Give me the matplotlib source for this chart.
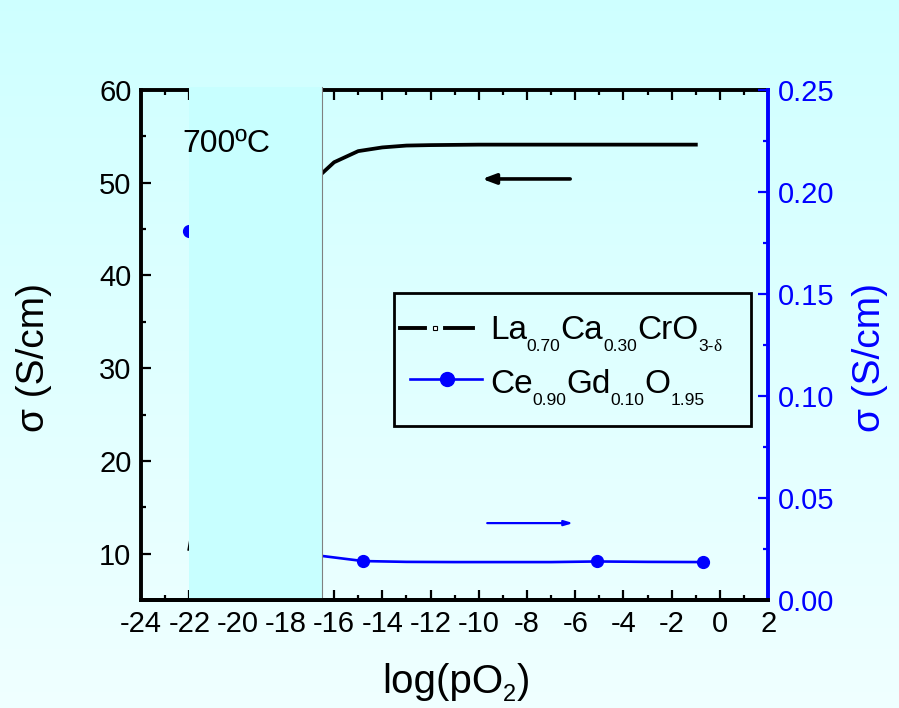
import matplotlib
matplotlib.use("Agg")
import matplotlib.pyplot as plt
import numpy as np
from matplotlib.lines import Line2D
from matplotlib.patches import Rectangle
from matplotlib.transforms import offset_copy, blended_transform_factory
from matplotlib.ticker import MultipleLocator, FormatStrFormatter

# dados
x_lcc = [-22, -21, -20, -19, -18, -17, -16.5, -16, -15, -14, -13, -12, -10, -8, -6, -4, -2, -1]
s_lcc = [10.5, 25, 35, 42, 47, 50, 51.0, 52.2, 53.4, 53.8, 54.0, 54.05, 54.1, 54.1, 54.1, 54.1, 54.1, 54.1]

x_cgo = [-22, -20, -18, -16.5, -14.8, -13, -11, -9, -7, -5.1, -3, -0.7]
s_cgo = [0.181, 0.09, 0.04, 0.0216, 0.0191, 0.0187, 0.0186, 0.0186, 0.0186, 0.0189, 0.0187, 0.0186]
cgo_marks = [0, 4, 9, 11]   # pontos medidos (com símbolo)

shade_x = (-22, -16.5)
# (texto, tipo): 0 normal, 1 subscrito, 2 subscrito serifado
lbl_lcc = [("La", 0), ("0.70", 1), ("Ca", 0), ("0.30", 1), ("CrO", 0), ("3-", 1), ("δ", 2)]
lbl_cgo = [("Ce", 0), ("0.90", 1), ("Gd", 0), ("0.10", 1), ("O", 0), ("1.95", 1)]
lbl_x = [("log(pO", 0), ("2", 1), (")", 0)]

plt.rcParams.update({
    "font.family": ["Liberation Sans", "DejaVu Sans"],
    "axes.unicode_minus": False,
})

BLUE = "#0000FF"
fig = plt.figure(figsize=(8.99, 7.08), dpi=100)
renderer = fig.canvas.get_renderer()


def formula(trans, x0, y0, parts, size, sub_size, drop, color="black", **kw):
    """Escreve texto com subscritos em pedaços (tamanho/deslocamento livres)."""
    dx = 0.0
    for s, kind in parts:
        fs = size if kind == 0 else sub_size
        dy = 0 if kind == 0 else -drop
        fam = ["Liberation Serif"] if kind == 2 else ["Liberation Sans"]
        tr = offset_copy(trans, fig=fig, x=dx, y=dy, units="dots")
        t = fig.text(x0, y0, s, transform=tr, fontsize=fs, family=fam,
                     va="baseline", ha="left", color=color, **kw)
        dx += t.get_window_extent(renderer).width


# fundo em degradê
bg = fig.add_axes([0, 0, 1, 1], zorder=-10)
grad = np.linspace(0.81, 0.94, 256).reshape(-1, 1)
img = np.dstack([grad, np.ones_like(grad), np.ones_like(grad)])
bg.imshow(img, aspect="auto", extent=[0, 1, 0, 1])
bg.axis("off")

ax1 = fig.add_axes([0.157, 0.1525, 0.6975, 0.7205])
ax1.patch.set_visible(False)
ax1.plot(x_lcc, s_lcc, color="black", lw=2.7, zorder=2)
ax1.set_xlim(-24, 2)
ax1.set_ylim(5, 60)
ax1.xaxis.set_major_locator(MultipleLocator(2))
ax1.xaxis.set_minor_locator(MultipleLocator(1))
ax1.yaxis.set_minor_locator(MultipleLocator(5))
ax1.set_yticks([10, 20, 30, 40, 50, 60])
ax1.tick_params(which="both", direction="in", top=True, right=False, width=1.6)
ax1.tick_params(which="major", length=7, labelsize=21, pad=7)
ax1.tick_params(which="minor", length=3.5)
for s in ("left", "top", "bottom"):
    ax1.spines[s].set_linewidth(2.8)
ax1.spines["right"].set_visible(False)
ax1.set_ylabel("σ (S/cm)", fontsize=28)
ax1.yaxis.set_label_coords(-0.142, 0.476)

ax1.annotate("", xy=(-9.86, 50.4), xytext=(-6.21, 50.4),
             arrowprops=dict(arrowstyle="-|>,head_length=0.8,head_width=0.3",
                             color="black", lw=2.6, shrinkA=0, shrinkB=0))

ax2 = ax1.twinx()
ax2.plot(x_cgo, s_cgo, color=BLUE, lw=1.9, marker="o", ms=8.5,
         markevery=cgo_marks, zorder=2)
ax2.set_ylim(0, 0.25)
ax2.yaxis.set_major_locator(MultipleLocator(0.05))
ax2.yaxis.set_minor_locator(MultipleLocator(0.025))
ax2.yaxis.set_major_formatter(FormatStrFormatter("%.2f"))
ax2.tick_params(which="both", direction="in", colors=BLUE, width=1.6)
ax2.tick_params(which="major", length=7, labelsize=21, pad=7)
ax2.tick_params(which="minor", length=3.5)
ax2.spines["right"].set_color(BLUE)
ax2.spines["right"].set_linewidth(2.8)
ax2.spines["left"].set_visible(False)
ax2.spines["top"].set_visible(False)
ax2.spines["bottom"].set_linewidth(2.8)
ax2.spines["bottom"].set_zorder(10)
ax2.set_ylabel("σ (S/cm)", fontsize=28, color=BLUE)
ax2.yaxis.set_label_coords(1.134, 0.476)

ax2.annotate("", xy=(-6.09, 0.0377), xytext=(-9.65, 0.0377),
             arrowprops=dict(arrowstyle="-|>,head_length=0.5,head_width=0.15",
                             color=BLUE, lw=1.6, shrinkA=0, shrinkB=0))

# faixa sombreada
trans = blended_transform_factory(ax2.transData, ax2.transAxes)
ax2.add_patch(Rectangle((shade_x[0], 0), shade_x[1] - shade_x[0], 1.006,
                        transform=trans, facecolor="#C8FFFF", edgecolor="none",
                        zorder=5, clip_on=False))
ax2.plot([shade_x[1], shade_x[1]], [0, 1.006], transform=trans, color="#808080",
         lw=0.8, zorder=6, clip_on=False)
ax2.text(0.066, 0.878, "700ºC", transform=ax2.transAxes, fontsize=23,
         va="baseline", ha="left", zorder=7)

# rótulo do eixo x
formula(fig.transFigure, 382 / 899, 1 - 693 / 708, lbl_x, 29, 17, 8)

# legenda (caixa, símbolos e fórmulas)
A = ax2.transAxes
ax2.add_patch(Rectangle((0.4035, 0.341), 0.5695, 0.261, transform=A, fill=False,
                        edgecolor="black", lw=2, zorder=20))
ax2.add_line(Line2D([0.413, 0.453], [0.533, 0.533], transform=A, color="black", lw=2.8, zorder=21))
ax2.add_line(Line2D([0.484, 0.529], [0.533, 0.533], transform=A, color="black", lw=2.8, zorder=21))
ax2.add_line(Line2D([0.468], [0.533], transform=A, ls="none", marker="s", ms=3.5,
                    mfc="white", mec="black", mew=0.8, zorder=21))
ax2.add_line(Line2D([0.429, 0.544], [0.433, 0.433], transform=A, color=BLUE, lw=1.9,
                    zorder=21))
ax2.add_line(Line2D([0.488], [0.433], transform=A, ls="none", marker="o", ms=10,
                    color=BLUE, zorder=21))
formula(ax2.transAxes, 0.556, 0.512, lbl_lcc, 24, 12.5, 12, zorder=22)
formula(ax2.transAxes, 0.556, 0.406, lbl_cgo, 24, 12.5, 12, zorder=22)

fig.savefig("out.png", dpi=100)
